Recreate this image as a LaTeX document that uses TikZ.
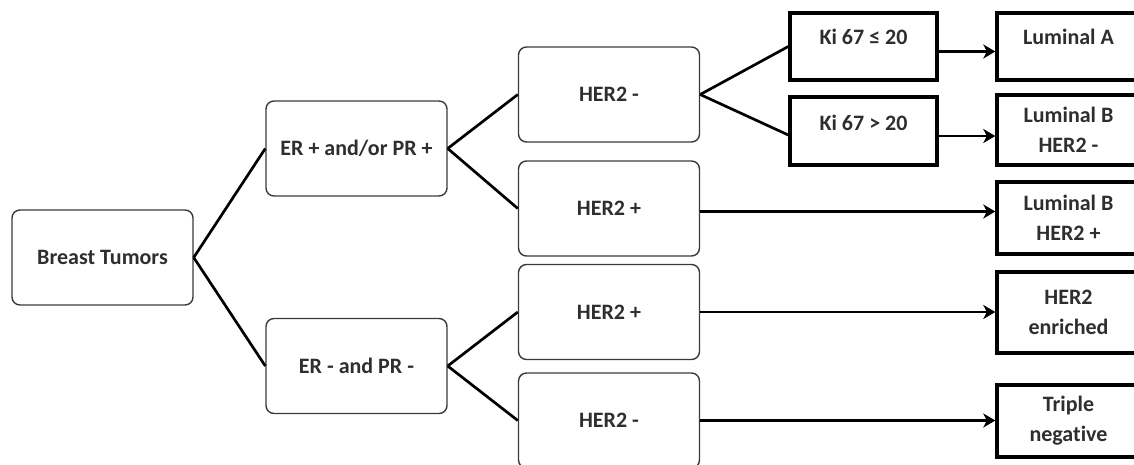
\documentclass[tikz,border=0pt]{standalone}
\usepackage{fontspec}
\setmainfont[Ligatures={NoCommon}]{Carlito}
\usetikzlibrary{arrows.meta}
\definecolor{txt}{HTML}{2E2E2E}
\definecolor{bord}{HTML}{3A3A3A}
\begin{document}
\begin{tikzpicture}[x=1pt,y=-1pt,
  every node/.style={font=\bfseries\fontsize{22}{30}\selectfont, text=txt},
  rbox/.style={draw=bord, line width=1.4pt, rounded corners=8pt, inner sep=0pt,
    minimum width=181pt, minimum height=95pt},
  tbox/.style={draw=black, line width=3.4pt, inner xsep=0pt, inner ysep=0pt, align=center},
  conn/.style={line width=2.7pt, black},
  arr/.style={line width=2.7pt, black, -{Stealth[length=12pt,width=14pt,inset=3.5pt]}}]
\useasboundingbox (0,0) rectangle (1134,464);
% rounded boxes
\node[rbox] (bt)  at (102.5,257.5) {Breast Tumors};
\node[rbox] (erp) at (356.5,148.5) {ER + and/or PR +};
\node[rbox] (ern) at (356.5,366)   {ER - and PR -};
\node[rbox] (h1)  at (609,94.5)    {HER2 -};
\node[rbox] (h2)  at (609,208.5)   {HER2 +};
\node[rbox] (h3)  at (609,312)     {HER2 +};
\node[rbox] (h4)  at (609,420.5)   {HER2 -};
% thick boxes
\node[tbox, minimum width=147pt, text height=31pt, text depth=36pt] (ki1) at (863.5,46.5) {Ki 67 ≤ 20};
\node[tbox, minimum width=147pt, text height=33pt, text depth=35pt] (ki2) at (863.5,131) {Ki 67 > 20};
\node[tbox, minimum width=143pt, text height=31pt, text depth=36pt] (la) at (1068.5,46.5) {Luminal A};
\node[tbox, minimum width=143pt, minimum height=70pt] (lbm) at (1068.5,130) {Luminal B\\HER2 -};
\node[tbox, minimum width=143pt, minimum height=72pt] (lbp) at (1068.5,218) {Luminal B\\HER2 +};
\node[tbox, minimum width=143pt, minimum height=81pt] (he)  at (1068.5,312.5) {HER2\\enriched};
\node[tbox, minimum width=143pt, minimum height=72pt] (tn)  at (1068.5,421) {Triple\\negative};
% connectors
\draw[conn] (bt.east) -- (erp.west);
\draw[conn] (bt.east) -- (ern.west);
\draw[conn] (erp.east) -- (h1.west);
\draw[conn] (erp.east) -- (h2.west);
\draw[conn] (ern.east) -- (h3.west);
\draw[conn] (ern.east) -- (h4.west);
\draw[conn] (h1.east) -- (ki1.west);
\draw[conn] (h1.east) -- ([yshift=-4pt]ki2.west);
% arrows
\draw[arr] ([yshift=-5pt]ki1.east) -- ([yshift=-5pt]la.west);
\draw[arr] ([yshift=-5pt]ki2.east) -- ([yshift=-5pt]ki2.east -| lbm.west);
\draw[arr] ([yshift=-3pt]h2.east) -- ([yshift=-3pt]h2.east -| lbp.west);
\draw[arr] (h3.east) -- (h3.east -| he.west);
\draw[arr] (h4.east) -- (h4.east -| tn.west);
\end{tikzpicture}
\end{document}
